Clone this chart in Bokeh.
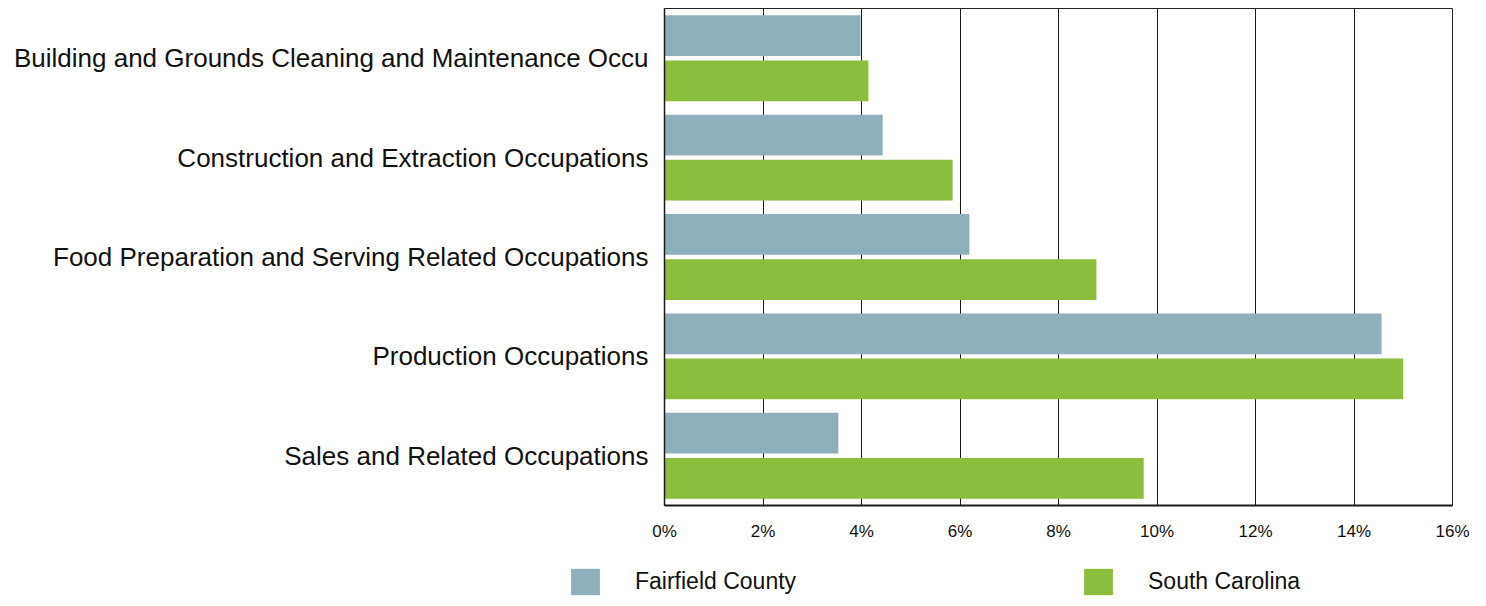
from bokeh.plotting import figure
from bokeh.layouts import column
from bokeh.models import Range1d, FactorRange, FixedTicker, Legend, LegendItem, ColumnDataSource
from bokeh.transform import dodge
from bokeh.embed import file_html
from bokeh.resources import INLINE

categories = [
    "Building and Grounds Cleaning and Maintenance Occu",
    "Construction and Extraction Occupations",
    "Food Preparation and Serving Related Occupations",
    "Production Occupations",
    "Sales and Related Occupations",
]
fairfield = [3.98, 4.43, 6.19, 14.56, 3.53]
south_carolina = [4.14, 5.85, 8.77, 15.0, 9.73]
series_names = ["Fairfield County", "South Carolina"]
x_ticks = [0, 2, 4, 6, 8, 10, 12, 14, 16]
tick_labels = ["0%", "2%", "4%", "6%", "8%", "10%", "12%", "14%", "16%"]

FONT = "Liberation Sans"
C_FF = "#8fafba"
C_SC = "#8dbd3c"

p = figure(
    width=1478, height=560,
    y_range=FactorRange(factors=categories[::-1]),
    x_range=Range1d(x_ticks[0], x_ticks[-1]),
    output_backend="svg", toolbar_location=None,
    min_border_left=664, min_border_right=26, min_border_top=8, min_border_bottom=55,
)
p.frame_align = False

src = ColumnDataSource(dict(cat=categories, ff=fairfield, sc=south_carolina))
r1 = p.hbar(y=dodge("cat", 0.227, range=p.y_range), left=0, right="ff", height=0.41,
            source=src, fill_color=C_FF, line_color=None)
r2 = p.hbar(y=dodge("cat", -0.227, range=p.y_range), left=0, right="sc", height=0.41,
            source=src, fill_color=C_SC, line_color=None)

p.outline_line_color = "#222222"
p.outline_line_width = 1

p.ygrid.visible = False
p.xgrid.ticker = FixedTicker(ticks=x_ticks)
p.xgrid.grid_line_color = "#1a1a1a"
p.xgrid.grid_line_width = 1
p.xgrid.level = "underlay"

xa = p.xaxis[0]
xa.ticker = FixedTicker(ticks=x_ticks)
xa.major_label_overrides = {t: l for t, l in zip(x_ticks, tick_labels)}
xa.major_tick_line_color = None
xa.minor_tick_line_color = None
xa.major_tick_out = 0
xa.major_tick_in = 0
xa.axis_line_color = "#1a1a1a"
xa.axis_line_width = 2
xa.major_label_standoff = 16
xa.major_label_text_font = FONT
xa.major_label_text_font_size = "17px"
xa.major_label_text_color = "#111111"

ya = p.yaxis[0]
ya.major_tick_line_color = None
ya.minor_tick_line_color = None
ya.major_tick_out = 0
ya.major_tick_in = 0
ya.axis_line_color = "#1a1a1a"
ya.axis_line_width = 1.5
ya.major_label_standoff = 16
ya.major_label_text_font = FONT
ya.major_label_text_font_size = "26px"
ya.major_label_text_color = "#111111"

# legend strip below the chart
lg = figure(
    width=1478, height=38, output_backend="svg", toolbar_location=None,
    x_range=Range1d(0, 1), y_range=Range1d(0, 1),
    x_axis_location=None, y_axis_location=None, min_border=0,
)
lg.frame_align = False
lg.grid.visible = False
lg.outline_line_color = None
key_src = ColumnDataSource(dict(y=[0], right=[0]))
k1 = lg.hbar(y="y", left=0, right="right", height=0.5, source=key_src, fill_color=C_FF, line_color=None)
k2 = lg.hbar(y="y", left=0, right="right", height=0.5, source=key_src, fill_color=C_SC, line_color=None)

legend = Legend(
    items=[LegendItem(label=series_names[0], renderers=[k1]),
           LegendItem(label=series_names[1], renderers=[k2])],
    orientation="horizontal", location=(567, 0),
    glyph_width=36, glyph_height=33, label_standoff=32,
    label_width=170, spacing=275, padding=0, margin=0,
    border_line_color=None, background_fill_alpha=0,
    label_text_font=FONT, label_text_font_size="23px", label_text_color="#111111",
)
lg.add_layout(legend)

layout = column(p, lg, spacing=0)
open("out.html", "w").write(file_html(layout, INLINE))
